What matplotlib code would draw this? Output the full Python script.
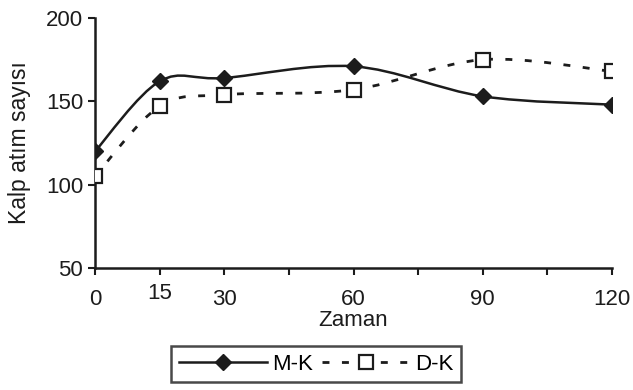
import numpy as np
import matplotlib
matplotlib.use("Agg")
import matplotlib.pyplot as plt
from matplotlib.path import Path
from matplotlib.patches import PathPatch
from matplotlib.lines import Line2D

# veriler
zaman = [0, 15, 30, 60, 90, 120]
mk = [120, 162, 164, 171, 153, 148]
dk = [105, 147, 154, 157, 175, 168]
xtick_pos = [0, 15, 30, 45, 60, 75, 90, 105, 120]
xtick_lab = ['0', '15', '30', '', '60', '', '90', '', '120']
ytick_pos = [50, 100, 150, 200]

plt.rcParams['font.family'] = ['Liberation Sans', 'DejaVu Sans']
RENK = '#1c1c1c'


def egri(x, y):
    # excel tarzi yumusak cizgi (bezier)
    p = np.column_stack([x, y]).astype(float)
    n = len(p)
    verts = [p[0]]
    codes = [Path.MOVETO]
    for i in range(n - 1):
        p0 = p[i - 1] if i > 0 else p[i]
        p3 = p[i + 2] if i + 2 < n else p[i + 1]
        c1 = p[i] + (p[i + 1] - p0) / 6.0
        c2 = p[i + 1] - (p3 - p[i]) / 6.0
        verts += [c1, c2, p[i + 1]]
        codes += [Path.CURVE4] * 3
    return Path(verts, codes)


fig = plt.figure(figsize=(6.33, 3.9), dpi=100)
ax = fig.add_axes([95 / 633, 1 - 268 / 390, (612 - 95) / 633, (268 - 18) / 390])

ax.add_patch(PathPatch(egri(zaman, mk), fill=False, edgecolor=RENK, lw=1.8, zorder=2))
ax.add_patch(PathPatch(egri(zaman, dk), fill=False, edgecolor=RENK, lw=2,
                       linestyle=(0, (2.5, 4.5)), zorder=2))
ax.plot(zaman, mk, linestyle='none', marker='D', markersize=8.5, color=RENK, zorder=3)
ax.plot(zaman, dk, linestyle='none', marker='s', markersize=10, markerfacecolor='white',
        markeredgecolor=RENK, markeredgewidth=1.6, zorder=3)

ax.set_xlim(0, 120)
ax.set_ylim(50, 200)
ax.set_xticks(xtick_pos)
ax.set_xticklabels(xtick_lab)
ax.set_yticks(ytick_pos)
ax.tick_params(axis='both', labelsize=16, colors=RENK, width=1.5, length=5, direction='out')
ax.tick_params(axis='x', pad=10)
ax.xaxis.get_major_ticks()[1].set_pad(6)
for s in ['top', 'right']:
    ax.spines[s].set_visible(False)
for s in ['left', 'bottom']:
    ax.spines[s].set_linewidth(1.8)
    ax.spines[s].set_color(RENK)

ax.set_xlabel('Zaman', fontsize=16, color=RENK, labelpad=0)
ax.set_ylabel('Kalp atım sayısı', fontsize=16.5, color=RENK, labelpad=11)

h1 = Line2D([], [], color=RENK, lw=1.8, marker='D', markersize=8.5)
h2 = Line2D([], [], color=RENK, lw=2, linestyle=(0, (2.5, 4.5)), marker='s', markersize=10,
            markerfacecolor='white', markeredgecolor=RENK, markeredgewidth=1.6)
leg = fig.legend([h1, h2], ['M-K', 'D-K'], loc='center', bbox_to_anchor=(316 / 633, 1 - 364 / 390),
                 ncol=2, fontsize=16, handlelength=4.0, handletextpad=0.2, columnspacing=0.4,
                 frameon=True, fancybox=False, borderpad=0.35)
leg.get_frame().set_edgecolor(RENK)
leg.get_frame().set_linewidth(1.8)

fig.savefig('out.png', dpi=100, facecolor='white')
